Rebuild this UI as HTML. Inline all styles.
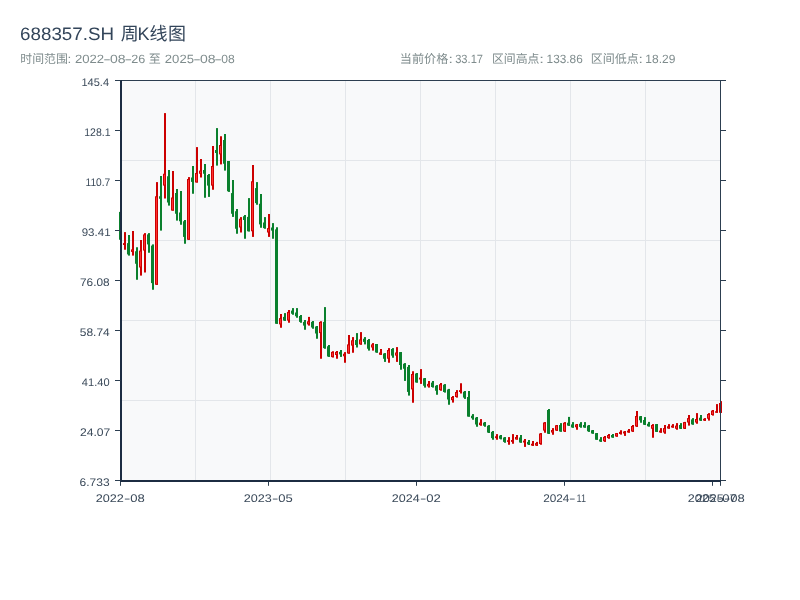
<!DOCTYPE html>
<html lang="zh-CN"><head><meta charset="utf-8"><title>688357.SH 周K线图</title>
<style>html,body{margin:0;padding:0;background:#fff;width:800px;height:600px;overflow:hidden;font-family:"Liberation Sans",sans-serif}svg{display:block;will-change:transform}</style>
</head><body>
<svg width="800" height="600" viewBox="0 0 800 600" font-family="'Liberation Sans', sans-serif" text-rendering="geometricPrecision">
<rect width="800" height="600" fill="#ffffff"/>
<g id="header">
<text x="20.05" y="40.00" font-size="18" fill="#33455a" textLength="93.99" lengthAdjust="spacingAndGlyphs">688357.SH</text>
<text x="120.66" y="40.00" font-size="18" fill="#33455a" font-family="'Liberation Sans', 'Noto Sans CJK SC', sans-serif">周</text>
<text x="137.51" y="40.00" font-size="18" fill="#33455a" textLength="12.09" lengthAdjust="spacingAndGlyphs">K</text>
<text x="149.45" y="40.00" font-size="18" fill="#33455a" font-family="'Liberation Sans', 'Noto Sans CJK SC', sans-serif">线</text>
<text x="168.09" y="40.00" font-size="18" fill="#33455a" font-family="'Liberation Sans', 'Noto Sans CJK SC', sans-serif">图</text>
<text x="20.28" y="63.10" font-size="12" fill="#7f8c8d" font-family="'Liberation Sans', 'Noto Sans CJK SC', sans-serif" textLength="47.5" lengthAdjust="spacingAndGlyphs">时间范围</text>
<text x="67.55" y="63.10" font-size="12" fill="#7f8c8d" textLength="3.79" lengthAdjust="spacingAndGlyphs">:</text>
<text y="63.1" font-size="12" fill="#7f8c8d"><tspan x="74.94" textLength="29.22" lengthAdjust="spacingAndGlyphs">2022</tspan><tspan x="103.30" textLength="7.50" lengthAdjust="spacingAndGlyphs">-</tspan><tspan x="110.05" textLength="15.55" lengthAdjust="spacingAndGlyphs">08</tspan><tspan x="124.48" textLength="7.64" lengthAdjust="spacingAndGlyphs">-</tspan><tspan x="131.27" textLength="14.04" lengthAdjust="spacingAndGlyphs">26</tspan></text>
<text x="148.85" y="63.10" font-size="12" fill="#7f8c8d" font-family="'Liberation Sans', 'Noto Sans CJK SC', sans-serif">至</text>
<text y="63.1" font-size="12" fill="#7f8c8d"><tspan x="164.84" textLength="29.11" lengthAdjust="spacingAndGlyphs">2025</tspan><tspan x="193.20" textLength="7.50" lengthAdjust="spacingAndGlyphs">-</tspan><tspan x="199.95" textLength="15.55" lengthAdjust="spacingAndGlyphs">08</tspan><tspan x="214.38" textLength="7.64" lengthAdjust="spacingAndGlyphs">-</tspan><tspan x="221.33" textLength="13.45" lengthAdjust="spacingAndGlyphs">08</tspan></text>
<text x="399.87" y="63.10" font-size="12" fill="#7f8c8d" font-family="'Liberation Sans', 'Noto Sans CJK SC', sans-serif" textLength="48.5" lengthAdjust="spacingAndGlyphs">当前价格</text>
<text x="448.56" y="63.10" font-size="12" fill="#7f8c8d" textLength="4.38" lengthAdjust="spacingAndGlyphs">:</text>
<text x="455.18" y="63.10" font-size="12" fill="#7f8c8d" textLength="27.88" lengthAdjust="spacingAndGlyphs">33.17</text>
<text x="491.94" y="63.10" font-size="12" fill="#7f8c8d" font-family="'Liberation Sans', 'Noto Sans CJK SC', sans-serif" textLength="47.5" lengthAdjust="spacingAndGlyphs">区间高点</text>
<text x="539.37" y="63.10" font-size="12" fill="#7f8c8d" textLength="4.67" lengthAdjust="spacingAndGlyphs">:</text>
<text x="546.60" y="63.10" font-size="12" fill="#7f8c8d" textLength="36.17" lengthAdjust="spacingAndGlyphs">133.86</text>
<text x="590.74" y="63.10" font-size="12" fill="#7f8c8d" font-family="'Liberation Sans', 'Noto Sans CJK SC', sans-serif" textLength="48" lengthAdjust="spacingAndGlyphs">区间低点</text>
<text x="638.56" y="63.10" font-size="12" fill="#7f8c8d" textLength="4.38" lengthAdjust="spacingAndGlyphs">:</text>
<text x="645.34" y="63.10" font-size="12" fill="#7f8c8d" textLength="29.98" lengthAdjust="spacingAndGlyphs">18.29</text>
</g>
<rect x="120" y="80" width="601" height="401" fill="#f8f9fa"/>
<g id="grid" fill="#e3e6ea">
<rect x="195" y="81" width="1" height="399"/>
<rect x="270" y="81" width="1" height="399"/>
<rect x="345" y="81" width="1" height="399"/>
<rect x="420" y="81" width="1" height="399"/>
<rect x="495" y="81" width="1" height="399"/>
<rect x="570" y="81" width="1" height="399"/>
<rect x="645" y="81" width="1" height="399"/>
<rect x="121" y="160" width="599" height="1"/>
<rect x="121" y="240" width="599" height="1"/>
<rect x="121" y="320" width="599" height="1"/>
<rect x="121" y="400" width="599" height="1"/>
</g>
<g id="candles" shape-rendering="auto">
<rect x="120.0" y="211.90" width="2" height="27.85" fill="#0a802d"/>
<rect x="119.0" y="211.90" width="3" height="27.85" fill="#0a802d"/>
<rect x="124.0" y="232.10" width="2" height="17.65" fill="#cc0000"/>
<rect x="123.0" y="243.10" width="3" height="1.90" fill="#cc0000"/>
<rect x="128.0" y="235.00" width="2" height="20.60" fill="#0a802d"/>
<rect x="127.0" y="243.10" width="3" height="11.30" fill="#0a802d"/>
<rect x="132.0" y="231.00" width="2" height="24.60" fill="#cc0000"/>
<rect x="131.0" y="249.40" width="3" height="2.50" fill="#cc0000"/>
<rect x="132.0" y="250.40" width="1" height="0.50" fill="#ff3030"/>
<rect x="136.0" y="247.25" width="2" height="32.50" fill="#0a802d"/>
<rect x="135.0" y="251.25" width="3" height="12.50" fill="#0a802d"/>
<rect x="140.0" y="240.00" width="2" height="35.60" fill="#cc0000"/>
<rect x="139.0" y="250.60" width="3" height="16.90" fill="#cc0000"/>
<rect x="140.0" y="251.60" width="1" height="14.90" fill="#ff3030"/>
<rect x="144.0" y="233.10" width="2" height="39.40" fill="#cc0000"/>
<rect x="143.0" y="234.40" width="3" height="16.20" fill="#cc0000"/>
<rect x="144.0" y="235.40" width="1" height="14.20" fill="#ff3030"/>
<rect x="148.0" y="233.10" width="2" height="19.65" fill="#0a802d"/>
<rect x="147.0" y="234.40" width="3" height="10.00" fill="#0a802d"/>
<rect x="152.0" y="244.40" width="2" height="45.35" fill="#0a802d"/>
<rect x="151.0" y="245.60" width="3" height="37.50" fill="#0a802d"/>
<rect x="156.0" y="182.10" width="2" height="102.65" fill="#cc0000"/>
<rect x="155.0" y="196.25" width="3" height="88.50" fill="#cc0000"/>
<rect x="156.0" y="197.25" width="1" height="86.50" fill="#ff3030"/>
<rect x="160.0" y="176.00" width="2" height="54.60" fill="#0a802d"/>
<rect x="159.0" y="196.25" width="3" height="2.50" fill="#0a802d"/>
<rect x="164.0" y="113.10" width="2" height="85.40" fill="#cc0000"/>
<rect x="163.0" y="173.75" width="3" height="11.85" fill="#cc0000"/>
<rect x="164.0" y="174.75" width="1" height="9.85" fill="#ff3030"/>
<rect x="168.0" y="170.00" width="2" height="35.60" fill="#0a802d"/>
<rect x="167.0" y="176.25" width="3" height="26.25" fill="#0a802d"/>
<rect x="172.0" y="171.00" width="2" height="39.60" fill="#cc0000"/>
<rect x="171.0" y="197.50" width="3" height="13.10" fill="#cc0000"/>
<rect x="172.0" y="198.50" width="1" height="11.10" fill="#ff3030"/>
<rect x="176.0" y="189.00" width="2" height="31.60" fill="#0a802d"/>
<rect x="175.0" y="193.00" width="3" height="20.75" fill="#0a802d"/>
<rect x="180.0" y="191.00" width="2" height="33.75" fill="#0a802d"/>
<rect x="179.0" y="212.50" width="3" height="8.75" fill="#0a802d"/>
<rect x="184.0" y="220.00" width="2" height="23.75" fill="#0a802d"/>
<rect x="183.0" y="221.25" width="3" height="15.65" fill="#0a802d"/>
<rect x="188.0" y="177.10" width="2" height="62.65" fill="#cc0000"/>
<rect x="187.0" y="179.00" width="3" height="60.75" fill="#cc0000"/>
<rect x="188.0" y="180.00" width="1" height="58.75" fill="#ff3030"/>
<rect x="192.0" y="166.00" width="2" height="27.75" fill="#0a802d"/>
<rect x="191.0" y="177.50" width="3" height="4.40" fill="#0a802d"/>
<rect x="196.0" y="147.10" width="2" height="35.40" fill="#cc0000"/>
<rect x="195.0" y="173.00" width="3" height="9.50" fill="#cc0000"/>
<rect x="196.0" y="174.00" width="1" height="7.50" fill="#ff3030"/>
<rect x="200.0" y="159.00" width="2" height="18.50" fill="#cc0000"/>
<rect x="199.0" y="170.60" width="3" height="3.15" fill="#cc0000"/>
<rect x="200.0" y="171.60" width="1" height="1.15" fill="#ff3030"/>
<rect x="204.0" y="164.00" width="2" height="33.75" fill="#0a802d"/>
<rect x="203.0" y="170.00" width="3" height="3.75" fill="#0a802d"/>
<rect x="208.0" y="174.00" width="2" height="22.90" fill="#0a802d"/>
<rect x="207.0" y="175.00" width="3" height="10.60" fill="#0a802d"/>
<rect x="212.0" y="146.00" width="2" height="43.75" fill="#cc0000"/>
<rect x="211.0" y="166.00" width="3" height="19.60" fill="#cc0000"/>
<rect x="212.0" y="167.00" width="1" height="17.60" fill="#ff3030"/>
<rect x="216.0" y="128.10" width="2" height="37.50" fill="#0a802d"/>
<rect x="215.0" y="150.00" width="3" height="3.00" fill="#0a802d"/>
<rect x="220.0" y="136.25" width="2" height="28.15" fill="#cc0000"/>
<rect x="219.0" y="145.00" width="3" height="9.40" fill="#cc0000"/>
<rect x="220.0" y="146.00" width="1" height="7.40" fill="#ff3030"/>
<rect x="224.0" y="134.00" width="2" height="36.60" fill="#0a802d"/>
<rect x="223.0" y="140.00" width="3" height="23.75" fill="#0a802d"/>
<rect x="228.0" y="161.00" width="2" height="30.90" fill="#0a802d"/>
<rect x="227.0" y="161.00" width="3" height="30.25" fill="#0a802d"/>
<rect x="232.0" y="180.00" width="2" height="36.90" fill="#0a802d"/>
<rect x="231.0" y="193.10" width="3" height="20.65" fill="#0a802d"/>
<rect x="236.0" y="209.00" width="2" height="24.75" fill="#0a802d"/>
<rect x="235.0" y="211.25" width="3" height="17.50" fill="#0a802d"/>
<rect x="240.0" y="217.10" width="2" height="15.40" fill="#cc0000"/>
<rect x="239.0" y="218.75" width="3" height="8.75" fill="#cc0000"/>
<rect x="240.0" y="219.75" width="1" height="6.75" fill="#ff3030"/>
<rect x="244.0" y="215.00" width="2" height="23.75" fill="#0a802d"/>
<rect x="243.0" y="216.25" width="3" height="3.75" fill="#0a802d"/>
<rect x="248.0" y="198.10" width="2" height="33.40" fill="#0a802d"/>
<rect x="247.0" y="216.90" width="3" height="14.35" fill="#0a802d"/>
<rect x="252.0" y="165.00" width="2" height="71.90" fill="#cc0000"/>
<rect x="251.0" y="181.25" width="3" height="50.00" fill="#cc0000"/>
<rect x="252.0" y="182.25" width="1" height="48.00" fill="#ff3030"/>
<rect x="256.0" y="182.10" width="2" height="22.65" fill="#0a802d"/>
<rect x="255.0" y="188.10" width="3" height="15.00" fill="#0a802d"/>
<rect x="260.0" y="194.00" width="2" height="33.75" fill="#0a802d"/>
<rect x="259.0" y="203.75" width="3" height="20.65" fill="#0a802d"/>
<rect x="264.0" y="217.10" width="2" height="11.65" fill="#0a802d"/>
<rect x="263.0" y="222.50" width="3" height="5.60" fill="#0a802d"/>
<rect x="268.0" y="214.00" width="2" height="22.90" fill="#cc0000"/>
<rect x="267.0" y="228.10" width="3" height="4.40" fill="#cc0000"/>
<rect x="268.0" y="229.10" width="1" height="2.40" fill="#ff3030"/>
<rect x="272.0" y="223.10" width="2" height="15.65" fill="#0a802d"/>
<rect x="271.0" y="227.50" width="3" height="3.10" fill="#0a802d"/>
<rect x="276.0" y="227.25" width="2" height="96.50" fill="#0a802d"/>
<rect x="275.0" y="229.40" width="3" height="94.35" fill="#0a802d"/>
<rect x="280.0" y="314.00" width="2" height="13.75" fill="#cc0000"/>
<rect x="279.0" y="318.10" width="3" height="6.30" fill="#cc0000"/>
<rect x="280.0" y="319.10" width="1" height="4.30" fill="#ff3030"/>
<rect x="284.0" y="313.10" width="2" height="7.80" fill="#0a802d"/>
<rect x="283.0" y="316.90" width="3" height="3.70" fill="#0a802d"/>
<rect x="288.0" y="310.00" width="2" height="12.75" fill="#cc0000"/>
<rect x="287.0" y="311.90" width="3" height="8.70" fill="#cc0000"/>
<rect x="288.0" y="312.90" width="1" height="6.70" fill="#ff3030"/>
<rect x="292.0" y="308.10" width="2" height="6.65" fill="#0a802d"/>
<rect x="291.0" y="310.60" width="3" height="3.15" fill="#0a802d"/>
<rect x="296.0" y="308.10" width="2" height="9.65" fill="#0a802d"/>
<rect x="295.0" y="312.50" width="3" height="3.75" fill="#0a802d"/>
<rect x="300.0" y="315.00" width="2" height="7.75" fill="#0a802d"/>
<rect x="299.0" y="316.00" width="3" height="5.90" fill="#0a802d"/>
<rect x="304.0" y="320.00" width="2" height="9.75" fill="#0a802d"/>
<rect x="303.0" y="321.90" width="3" height="3.70" fill="#0a802d"/>
<rect x="308.0" y="316.90" width="2" height="8.70" fill="#cc0000"/>
<rect x="307.0" y="321.25" width="3" height="3.15" fill="#cc0000"/>
<rect x="308.0" y="322.25" width="1" height="1.15" fill="#ff3030"/>
<rect x="312.0" y="321.00" width="2" height="7.75" fill="#0a802d"/>
<rect x="311.0" y="321.90" width="3" height="5.60" fill="#0a802d"/>
<rect x="316.0" y="326.00" width="2" height="12.75" fill="#0a802d"/>
<rect x="315.0" y="326.50" width="3" height="7.00" fill="#0a802d"/>
<rect x="320.0" y="321.25" width="2" height="37.50" fill="#cc0000"/>
<rect x="319.0" y="321.90" width="3" height="11.20" fill="#cc0000"/>
<rect x="320.0" y="322.90" width="1" height="9.20" fill="#ff3030"/>
<rect x="324.0" y="307.10" width="2" height="41.65" fill="#0a802d"/>
<rect x="323.0" y="321.90" width="3" height="26.20" fill="#0a802d"/>
<rect x="328.0" y="345.00" width="2" height="11.90" fill="#0a802d"/>
<rect x="327.0" y="346.25" width="3" height="10.25" fill="#0a802d"/>
<rect x="332.0" y="351.25" width="2" height="6.25" fill="#cc0000"/>
<rect x="331.0" y="351.90" width="3" height="5.20" fill="#cc0000"/>
<rect x="332.0" y="352.90" width="1" height="3.20" fill="#ff3030"/>
<rect x="336.0" y="351.00" width="2" height="7.75" fill="#cc0000"/>
<rect x="335.0" y="351.90" width="3" height="3.10" fill="#cc0000"/>
<rect x="336.0" y="352.90" width="1" height="1.10" fill="#ff3030"/>
<rect x="340.0" y="350.00" width="2" height="6.90" fill="#0a802d"/>
<rect x="339.0" y="351.90" width="3" height="2.50" fill="#0a802d"/>
<rect x="344.0" y="352.10" width="2" height="10.65" fill="#cc0000"/>
<rect x="343.0" y="353.75" width="3" height="2.50" fill="#cc0000"/>
<rect x="344.0" y="354.75" width="1" height="0.50" fill="#ff3030"/>
<rect x="348.0" y="335.00" width="2" height="18.75" fill="#cc0000"/>
<rect x="347.0" y="344.40" width="3" height="9.10" fill="#cc0000"/>
<rect x="348.0" y="345.40" width="1" height="7.10" fill="#ff3030"/>
<rect x="352.0" y="337.10" width="2" height="15.65" fill="#cc0000"/>
<rect x="351.0" y="340.25" width="3" height="5.35" fill="#cc0000"/>
<rect x="352.0" y="341.25" width="1" height="3.35" fill="#ff3030"/>
<rect x="356.0" y="333.10" width="2" height="14.40" fill="#0a802d"/>
<rect x="355.0" y="340.00" width="3" height="5.00" fill="#0a802d"/>
<rect x="360.0" y="332.10" width="2" height="12.65" fill="#cc0000"/>
<rect x="359.0" y="339.40" width="3" height="5.00" fill="#cc0000"/>
<rect x="360.0" y="340.40" width="1" height="3.00" fill="#ff3030"/>
<rect x="364.0" y="337.10" width="2" height="7.30" fill="#0a802d"/>
<rect x="363.0" y="338.75" width="3" height="3.15" fill="#0a802d"/>
<rect x="368.0" y="339.00" width="2" height="11.60" fill="#0a802d"/>
<rect x="367.0" y="340.00" width="3" height="8.75" fill="#0a802d"/>
<rect x="372.0" y="343.10" width="2" height="7.50" fill="#cc0000"/>
<rect x="371.0" y="344.40" width="3" height="3.10" fill="#cc0000"/>
<rect x="372.0" y="345.40" width="1" height="1.10" fill="#ff3030"/>
<rect x="376.0" y="344.00" width="2" height="8.75" fill="#0a802d"/>
<rect x="375.0" y="344.00" width="3" height="8.50" fill="#0a802d"/>
<rect x="380.0" y="349.00" width="2" height="5.75" fill="#cc0000"/>
<rect x="379.0" y="352.50" width="3" height="2.25" fill="#cc0000"/>
<rect x="380.0" y="353.50" width="1" height="0.25" fill="#ff3030"/>
<rect x="384.0" y="353.10" width="2" height="8.80" fill="#0a802d"/>
<rect x="383.0" y="353.50" width="3" height="5.25" fill="#0a802d"/>
<rect x="388.0" y="348.10" width="2" height="14.65" fill="#cc0000"/>
<rect x="387.0" y="350.00" width="3" height="8.75" fill="#cc0000"/>
<rect x="388.0" y="351.00" width="1" height="6.75" fill="#ff3030"/>
<rect x="392.0" y="348.10" width="2" height="9.65" fill="#0a802d"/>
<rect x="391.0" y="349.00" width="3" height="6.60" fill="#0a802d"/>
<rect x="396.0" y="347.10" width="2" height="14.80" fill="#cc0000"/>
<rect x="395.0" y="352.50" width="3" height="3.10" fill="#cc0000"/>
<rect x="396.0" y="353.50" width="1" height="1.10" fill="#ff3030"/>
<rect x="400.0" y="352.10" width="2" height="17.65" fill="#0a802d"/>
<rect x="399.0" y="352.10" width="3" height="12.90" fill="#0a802d"/>
<rect x="404.0" y="363.10" width="2" height="17.80" fill="#0a802d"/>
<rect x="403.0" y="363.75" width="3" height="5.00" fill="#0a802d"/>
<rect x="408.0" y="365.00" width="2" height="30.60" fill="#0a802d"/>
<rect x="407.0" y="366.90" width="3" height="25.00" fill="#0a802d"/>
<rect x="412.0" y="371.25" width="2" height="31.50" fill="#cc0000"/>
<rect x="411.0" y="374.00" width="3" height="15.40" fill="#cc0000"/>
<rect x="412.0" y="375.00" width="1" height="13.40" fill="#ff3030"/>
<rect x="416.0" y="373.00" width="2" height="9.60" fill="#0a802d"/>
<rect x="415.0" y="373.50" width="3" height="9.00" fill="#0a802d"/>
<rect x="420.0" y="369.10" width="2" height="14.80" fill="#cc0000"/>
<rect x="419.0" y="377.60" width="3" height="1.90" fill="#cc0000"/>
<rect x="424.0" y="378.00" width="2" height="9.60" fill="#0a802d"/>
<rect x="423.0" y="378.25" width="3" height="7.50" fill="#0a802d"/>
<rect x="428.0" y="381.00" width="2" height="6.60" fill="#cc0000"/>
<rect x="427.0" y="383.90" width="3" height="2.50" fill="#cc0000"/>
<rect x="428.0" y="384.90" width="1" height="0.50" fill="#ff3030"/>
<rect x="432.0" y="381.00" width="2" height="6.60" fill="#0a802d"/>
<rect x="431.0" y="382.60" width="3" height="4.40" fill="#0a802d"/>
<rect x="436.0" y="385.10" width="2" height="9.65" fill="#0a802d"/>
<rect x="435.0" y="385.75" width="3" height="5.00" fill="#0a802d"/>
<rect x="440.0" y="383.00" width="2" height="7.75" fill="#cc0000"/>
<rect x="439.0" y="384.25" width="3" height="5.85" fill="#cc0000"/>
<rect x="440.0" y="385.25" width="1" height="3.85" fill="#ff3030"/>
<rect x="444.0" y="384.10" width="2" height="8.50" fill="#0a802d"/>
<rect x="443.0" y="384.75" width="3" height="7.25" fill="#0a802d"/>
<rect x="448.0" y="388.90" width="2" height="15.85" fill="#0a802d"/>
<rect x="447.0" y="389.50" width="3" height="10.00" fill="#0a802d"/>
<rect x="452.0" y="396.00" width="2" height="6.60" fill="#cc0000"/>
<rect x="451.0" y="397.00" width="3" height="3.10" fill="#cc0000"/>
<rect x="452.0" y="398.00" width="1" height="1.10" fill="#ff3030"/>
<rect x="456.0" y="390.10" width="2" height="7.50" fill="#cc0000"/>
<rect x="455.0" y="392.00" width="3" height="5.00" fill="#cc0000"/>
<rect x="456.0" y="393.00" width="1" height="3.00" fill="#ff3030"/>
<rect x="460.0" y="383.25" width="2" height="10.25" fill="#cc0000"/>
<rect x="459.0" y="390.10" width="3" height="1.90" fill="#cc0000"/>
<rect x="464.0" y="391.00" width="2" height="7.90" fill="#0a802d"/>
<rect x="463.0" y="391.75" width="3" height="5.85" fill="#0a802d"/>
<rect x="468.0" y="391.00" width="2" height="25.60" fill="#0a802d"/>
<rect x="467.0" y="397.00" width="3" height="19.60" fill="#0a802d"/>
<rect x="472.0" y="414.10" width="2" height="5.65" fill="#0a802d"/>
<rect x="471.0" y="415.75" width="3" height="2.50" fill="#0a802d"/>
<rect x="476.0" y="417.00" width="2" height="9.75" fill="#0a802d"/>
<rect x="475.0" y="417.60" width="3" height="6.90" fill="#0a802d"/>
<rect x="480.0" y="419.10" width="2" height="6.65" fill="#cc0000"/>
<rect x="479.0" y="422.60" width="3" height="2.50" fill="#cc0000"/>
<rect x="480.0" y="423.60" width="1" height="0.50" fill="#ff3030"/>
<rect x="484.0" y="422.00" width="2" height="4.75" fill="#0a802d"/>
<rect x="483.0" y="422.60" width="3" height="3.15" fill="#0a802d"/>
<rect x="488.0" y="425.10" width="2" height="7.90" fill="#0a802d"/>
<rect x="487.0" y="425.75" width="3" height="6.85" fill="#0a802d"/>
<rect x="492.0" y="431.00" width="2" height="8.75" fill="#0a802d"/>
<rect x="491.0" y="431.90" width="3" height="6.20" fill="#0a802d"/>
<rect x="496.0" y="434.10" width="2" height="5.65" fill="#cc0000"/>
<rect x="495.0" y="436.25" width="3" height="1.85" fill="#cc0000"/>
<rect x="500.0" y="435.00" width="2" height="4.40" fill="#0a802d"/>
<rect x="499.0" y="435.60" width="3" height="3.15" fill="#0a802d"/>
<rect x="504.0" y="437.10" width="2" height="5.65" fill="#0a802d"/>
<rect x="503.0" y="437.50" width="3" height="4.40" fill="#0a802d"/>
<rect x="508.0" y="437.10" width="2" height="7.65" fill="#cc0000"/>
<rect x="507.0" y="440.25" width="3" height="1.65" fill="#cc0000"/>
<rect x="512.0" y="434.10" width="2" height="9.65" fill="#cc0000"/>
<rect x="511.0" y="440.00" width="3" height="1.90" fill="#cc0000"/>
<rect x="516.0" y="435.00" width="2" height="4.60" fill="#cc0000"/>
<rect x="515.0" y="437.00" width="3" height="2.50" fill="#cc0000"/>
<rect x="516.0" y="438.00" width="1" height="0.50" fill="#ff3030"/>
<rect x="520.0" y="435.00" width="2" height="7.75" fill="#0a802d"/>
<rect x="519.0" y="437.50" width="3" height="5.00" fill="#0a802d"/>
<rect x="524.0" y="439.00" width="2" height="7.90" fill="#cc0000"/>
<rect x="523.0" y="440.60" width="3" height="1.90" fill="#cc0000"/>
<rect x="528.0" y="440.00" width="2" height="5.00" fill="#0a802d"/>
<rect x="527.0" y="441.90" width="3" height="2.50" fill="#0a802d"/>
<rect x="532.0" y="441.00" width="2" height="4.90" fill="#cc0000"/>
<rect x="531.0" y="443.75" width="3" height="1.85" fill="#cc0000"/>
<rect x="536.0" y="441.90" width="2" height="4.00" fill="#cc0000"/>
<rect x="535.0" y="443.10" width="3" height="2.50" fill="#cc0000"/>
<rect x="536.0" y="444.10" width="1" height="0.50" fill="#ff3030"/>
<rect x="540.0" y="433.10" width="2" height="11.65" fill="#cc0000"/>
<rect x="539.0" y="433.50" width="3" height="10.50" fill="#cc0000"/>
<rect x="540.0" y="434.50" width="1" height="8.50" fill="#ff3030"/>
<rect x="544.0" y="422.10" width="2" height="10.65" fill="#cc0000"/>
<rect x="543.0" y="422.50" width="3" height="8.10" fill="#cc0000"/>
<rect x="544.0" y="423.50" width="1" height="6.10" fill="#ff3030"/>
<rect x="548.0" y="409.00" width="2" height="25.00" fill="#0a802d"/>
<rect x="547.0" y="410.00" width="3" height="23.75" fill="#0a802d"/>
<rect x="552.0" y="428.10" width="2" height="6.65" fill="#cc0000"/>
<rect x="551.0" y="430.00" width="3" height="2.50" fill="#cc0000"/>
<rect x="552.0" y="431.00" width="1" height="0.50" fill="#ff3030"/>
<rect x="556.0" y="425.00" width="2" height="5.90" fill="#cc0000"/>
<rect x="555.0" y="425.25" width="3" height="5.35" fill="#cc0000"/>
<rect x="556.0" y="426.25" width="1" height="3.35" fill="#ff3030"/>
<rect x="560.0" y="423.10" width="2" height="8.65" fill="#0a802d"/>
<rect x="559.0" y="425.00" width="3" height="6.50" fill="#0a802d"/>
<rect x="564.0" y="422.10" width="2" height="9.80" fill="#cc0000"/>
<rect x="563.0" y="422.75" width="3" height="8.75" fill="#cc0000"/>
<rect x="564.0" y="423.75" width="1" height="6.75" fill="#ff3030"/>
<rect x="568.0" y="416.90" width="2" height="9.00" fill="#0a802d"/>
<rect x="567.0" y="422.75" width="3" height="2.85" fill="#0a802d"/>
<rect x="572.0" y="422.10" width="2" height="5.65" fill="#0a802d"/>
<rect x="571.0" y="424.40" width="3" height="3.10" fill="#0a802d"/>
<rect x="576.0" y="424.00" width="2" height="5.75" fill="#cc0000"/>
<rect x="575.0" y="424.40" width="3" height="2.85" fill="#cc0000"/>
<rect x="576.0" y="425.40" width="1" height="0.85" fill="#ff3030"/>
<rect x="580.0" y="422.10" width="2" height="5.65" fill="#0a802d"/>
<rect x="579.0" y="423.75" width="3" height="3.15" fill="#0a802d"/>
<rect x="584.0" y="422.10" width="2" height="5.65" fill="#0a802d"/>
<rect x="583.0" y="425.00" width="3" height="2.50" fill="#0a802d"/>
<rect x="588.0" y="425.00" width="2" height="6.90" fill="#0a802d"/>
<rect x="587.0" y="425.60" width="3" height="5.65" fill="#0a802d"/>
<rect x="592.0" y="430.00" width="2" height="3.75" fill="#0a802d"/>
<rect x="591.0" y="430.25" width="3" height="3.25" fill="#0a802d"/>
<rect x="596.0" y="433.10" width="2" height="6.65" fill="#0a802d"/>
<rect x="595.0" y="433.10" width="3" height="6.65" fill="#0a802d"/>
<rect x="600.0" y="437.10" width="2" height="4.80" fill="#0a802d"/>
<rect x="599.0" y="439.40" width="3" height="2.10" fill="#0a802d"/>
<rect x="604.0" y="436.00" width="2" height="5.90" fill="#cc0000"/>
<rect x="603.0" y="436.90" width="3" height="4.35" fill="#cc0000"/>
<rect x="604.0" y="437.90" width="1" height="2.35" fill="#ff3030"/>
<rect x="608.0" y="434.00" width="2" height="4.75" fill="#cc0000"/>
<rect x="607.0" y="435.00" width="3" height="3.10" fill="#cc0000"/>
<rect x="608.0" y="436.00" width="1" height="1.10" fill="#ff3030"/>
<rect x="612.0" y="434.00" width="2" height="3.75" fill="#0a802d"/>
<rect x="611.0" y="435.00" width="3" height="2.50" fill="#0a802d"/>
<rect x="616.0" y="433.00" width="2" height="3.75" fill="#cc0000"/>
<rect x="615.0" y="433.10" width="3" height="3.40" fill="#cc0000"/>
<rect x="616.0" y="434.10" width="1" height="1.40" fill="#ff3030"/>
<rect x="620.0" y="430.25" width="2" height="4.35" fill="#cc0000"/>
<rect x="619.0" y="431.90" width="3" height="2.10" fill="#cc0000"/>
<rect x="624.0" y="431.00" width="2" height="4.90" fill="#cc0000"/>
<rect x="623.0" y="431.50" width="3" height="2.00" fill="#cc0000"/>
<rect x="628.0" y="429.00" width="2" height="3.75" fill="#cc0000"/>
<rect x="627.0" y="430.60" width="3" height="1.90" fill="#cc0000"/>
<rect x="632.0" y="425.00" width="2" height="6.90" fill="#cc0000"/>
<rect x="631.0" y="426.00" width="3" height="5.50" fill="#cc0000"/>
<rect x="632.0" y="427.00" width="1" height="3.50" fill="#ff3030"/>
<rect x="636.0" y="411.00" width="2" height="15.90" fill="#cc0000"/>
<rect x="635.0" y="416.00" width="3" height="10.50" fill="#cc0000"/>
<rect x="636.0" y="417.00" width="1" height="8.50" fill="#ff3030"/>
<rect x="640.0" y="416.00" width="2" height="6.75" fill="#0a802d"/>
<rect x="639.0" y="416.25" width="3" height="4.00" fill="#0a802d"/>
<rect x="644.0" y="417.10" width="2" height="7.90" fill="#0a802d"/>
<rect x="643.0" y="420.00" width="3" height="4.75" fill="#0a802d"/>
<rect x="648.0" y="421.90" width="2" height="4.70" fill="#0a802d"/>
<rect x="647.0" y="423.75" width="3" height="2.50" fill="#0a802d"/>
<rect x="652.0" y="424.10" width="2" height="13.65" fill="#cc0000"/>
<rect x="651.0" y="425.00" width="3" height="3.75" fill="#cc0000"/>
<rect x="652.0" y="426.00" width="1" height="1.75" fill="#ff3030"/>
<rect x="656.0" y="424.10" width="2" height="7.80" fill="#0a802d"/>
<rect x="655.0" y="424.10" width="3" height="7.80" fill="#0a802d"/>
<rect x="660.0" y="428.10" width="2" height="4.65" fill="#cc0000"/>
<rect x="659.0" y="430.60" width="3" height="1.90" fill="#cc0000"/>
<rect x="664.0" y="425.00" width="2" height="8.75" fill="#cc0000"/>
<rect x="663.0" y="428.10" width="3" height="4.40" fill="#cc0000"/>
<rect x="664.0" y="429.10" width="1" height="2.40" fill="#ff3030"/>
<rect x="668.0" y="424.10" width="2" height="4.65" fill="#cc0000"/>
<rect x="667.0" y="426.25" width="3" height="2.25" fill="#cc0000"/>
<rect x="668.0" y="427.25" width="1" height="0.25" fill="#ff3030"/>
<rect x="672.0" y="424.10" width="2" height="3.65" fill="#cc0000"/>
<rect x="671.0" y="425.60" width="3" height="1.90" fill="#cc0000"/>
<rect x="676.0" y="423.10" width="2" height="6.65" fill="#cc0000"/>
<rect x="675.0" y="425.60" width="3" height="3.15" fill="#cc0000"/>
<rect x="676.0" y="426.60" width="1" height="1.15" fill="#ff3030"/>
<rect x="680.0" y="423.10" width="2" height="5.90" fill="#0a802d"/>
<rect x="679.0" y="425.00" width="3" height="3.75" fill="#0a802d"/>
<rect x="684.0" y="421.90" width="2" height="7.10" fill="#cc0000"/>
<rect x="683.0" y="422.10" width="3" height="6.65" fill="#cc0000"/>
<rect x="684.0" y="423.10" width="1" height="4.65" fill="#ff3030"/>
<rect x="688.0" y="415.00" width="2" height="10.60" fill="#cc0000"/>
<rect x="687.0" y="418.10" width="3" height="4.40" fill="#cc0000"/>
<rect x="688.0" y="419.10" width="1" height="2.40" fill="#ff3030"/>
<rect x="692.0" y="418.10" width="2" height="6.65" fill="#0a802d"/>
<rect x="691.0" y="419.40" width="3" height="5.00" fill="#0a802d"/>
<rect x="696.0" y="413.10" width="2" height="10.65" fill="#cc0000"/>
<rect x="695.0" y="419.00" width="3" height="3.50" fill="#cc0000"/>
<rect x="696.0" y="420.00" width="1" height="1.50" fill="#ff3030"/>
<rect x="700.0" y="415.00" width="2" height="5.90" fill="#0a802d"/>
<rect x="699.0" y="417.75" width="3" height="2.85" fill="#0a802d"/>
<rect x="704.0" y="418.10" width="2" height="2.80" fill="#cc0000"/>
<rect x="703.0" y="418.75" width="3" height="1.85" fill="#cc0000"/>
<rect x="708.0" y="413.10" width="2" height="7.50" fill="#cc0000"/>
<rect x="707.0" y="414.00" width="3" height="4.75" fill="#cc0000"/>
<rect x="708.0" y="415.00" width="1" height="2.75" fill="#ff3030"/>
<rect x="712.0" y="410.00" width="2" height="5.60" fill="#cc0000"/>
<rect x="711.0" y="410.60" width="3" height="4.40" fill="#cc0000"/>
<rect x="712.0" y="411.60" width="1" height="2.40" fill="#ff3030"/>
<rect x="716.0" y="404.10" width="2" height="8.65" fill="#cc0000"/>
<rect x="715.0" y="411.25" width="3" height="1.50" fill="#cc0000"/>
<rect x="720.0" y="401.10" width="2" height="11.80" fill="#cc0000"/>
<rect x="719.0" y="403.00" width="3" height="9.75" fill="#cc0000"/>
<rect x="720.0" y="404.00" width="1" height="7.75" fill="#ff3030"/>
</g>
<g id="axes" fill="#2c3e50">
<rect x="115" y="80" width="611" height="1"/>
<rect x="720" y="80" width="1" height="401"/>
<rect x="120" y="80" width="2" height="402" fill="#1c2c42"/>
<rect x="120" y="480" width="601" height="2" fill="#1c2c42"/>
<rect x="115" y="80" width="5.5" height="1"/>
<rect x="721" y="80" width="5" height="1"/>
<rect x="115" y="130" width="5.5" height="1"/>
<rect x="721" y="130" width="5" height="1"/>
<rect x="115" y="180" width="5.5" height="1"/>
<rect x="721" y="180" width="5" height="1"/>
<rect x="115" y="230" width="5.5" height="1"/>
<rect x="721" y="230" width="5" height="1"/>
<rect x="115" y="280" width="5.5" height="1"/>
<rect x="721" y="280" width="5" height="1"/>
<rect x="115" y="330" width="5.5" height="1"/>
<rect x="721" y="330" width="5" height="1"/>
<rect x="115" y="380" width="5.5" height="1"/>
<rect x="721" y="380" width="5" height="1"/>
<rect x="115" y="430" width="5.5" height="1"/>
<rect x="721" y="430" width="5" height="1"/>
<rect x="115" y="480" width="5.5" height="1"/>
<rect x="721" y="480" width="5" height="1"/>
<rect x="120" y="482" width="1" height="3.8"/>
<rect x="268" y="482" width="1" height="3.8"/>
<rect x="416" y="482" width="1" height="3.8"/>
<rect x="564" y="482" width="1" height="3.8"/>
<rect x="712" y="482" width="1" height="3.8"/>
<rect x="720" y="482" width="1" height="3.8"/>
</g>
<g id="ylabels">
<text x="81.41" y="85.90" font-size="11" fill="#3b4a5a" textLength="27.67" lengthAdjust="spacingAndGlyphs">145.4</text>
<text x="84.20" y="135.90" font-size="11" fill="#3b4a5a" textLength="26.31" lengthAdjust="spacingAndGlyphs">128.1</text>
<text x="85.50" y="185.90" font-size="11" fill="#3b4a5a" textLength="24.75" lengthAdjust="spacingAndGlyphs">110.7</text>
<text x="81.71" y="235.90" font-size="11" fill="#3b4a5a" textLength="28.85" lengthAdjust="spacingAndGlyphs">93.41</text>
<text x="79.99" y="285.90" font-size="11" fill="#3b4a5a" textLength="29.62" lengthAdjust="spacingAndGlyphs">76.08</text>
<text x="79.77" y="335.90" font-size="11" fill="#3b4a5a" textLength="29.98" lengthAdjust="spacingAndGlyphs">58.74</text>
<text x="81.85" y="385.90" font-size="11" fill="#3b4a5a" textLength="27.69" lengthAdjust="spacingAndGlyphs">41.40</text>
<text x="79.99" y="435.90" font-size="11" fill="#3b4a5a" textLength="30.37" lengthAdjust="spacingAndGlyphs">24.07</text>
<text x="79.64" y="485.90" font-size="11" fill="#3b4a5a" textLength="29.99" lengthAdjust="spacingAndGlyphs">6.733</text>
</g>
<g id="xlabels">
<text y="502" font-size="11" fill="#3b4a5a"><tspan x="95.76" textLength="28.12" lengthAdjust="spacingAndGlyphs">2022</tspan><tspan x="123.94" textLength="6.41" lengthAdjust="spacingAndGlyphs">-</tspan><tspan x="130.29" textLength="14.53" lengthAdjust="spacingAndGlyphs">08</tspan></text>
<text y="502" font-size="11" fill="#3b4a5a"><tspan x="243.77" textLength="28.04" lengthAdjust="spacingAndGlyphs">2023</tspan><tspan x="271.94" textLength="6.41" lengthAdjust="spacingAndGlyphs">-</tspan><tspan x="278.29" textLength="14.51" lengthAdjust="spacingAndGlyphs">05</tspan></text>
<text y="502" font-size="11" fill="#3b4a5a"><tspan x="391.77" textLength="27.85" lengthAdjust="spacingAndGlyphs">2024</tspan><tspan x="419.94" textLength="6.41" lengthAdjust="spacingAndGlyphs">-</tspan><tspan x="426.29" textLength="14.62" lengthAdjust="spacingAndGlyphs">02</tspan></text>
<text y="502" font-size="11" fill="#3b4a5a"><tspan x="543.16" textLength="26.19" lengthAdjust="spacingAndGlyphs">2024</tspan><tspan x="569.03" textLength="6.55" lengthAdjust="spacingAndGlyphs">-</tspan><tspan x="576.61" textLength="9.41" lengthAdjust="spacingAndGlyphs">11</tspan></text>
<text y="502" font-size="11" fill="#3b4a5a"><tspan x="687.77" textLength="28.01" lengthAdjust="spacingAndGlyphs">2025</tspan><tspan x="715.94" textLength="6.41" lengthAdjust="spacingAndGlyphs">-</tspan><tspan x="722.29" textLength="14.62" lengthAdjust="spacingAndGlyphs">07</tspan></text>
<text y="502" font-size="11" fill="#3b4a5a"><tspan x="695.77" textLength="28.01" lengthAdjust="spacingAndGlyphs">2025</tspan><tspan x="723.94" textLength="6.41" lengthAdjust="spacingAndGlyphs">-</tspan><tspan x="730.29" textLength="14.53" lengthAdjust="spacingAndGlyphs">08</tspan></text>
</g>
</svg>
</body></html>
